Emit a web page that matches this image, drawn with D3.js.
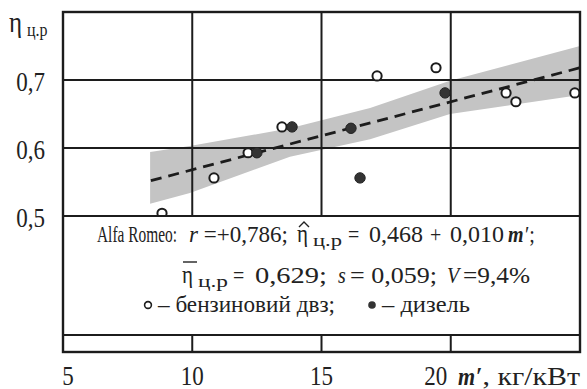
<!DOCTYPE html>
<html>
<head>
<meta charset="utf-8">
<script src="https://cdn.jsdelivr.net/npm/d3@7"></script>
<style>
  html, body { margin: 0; background: #fff; }
  svg { display: block; }
  text { font-family: "Liberation Serif", "DejaVu Serif", serif; }
</style>
</head>
<body>
<div id="chart"></div>
<script>
// ── Data ──────────────────────────────────────────────────────────────────
const xTicks      = [5, 10, 15, 20];
const xTickLabels = ["5", "10", "15", "20"];
const yTicks      = [0.5, 0.6, 0.7];
const yTickLabels = ["0,5", "0,6", "0,7"];

// petrol engines (open circles)
const petrolX = [8.83, 10.84, 12.16, 13.47, 17.15, 19.43, 22.14, 22.52, 24.8];
const petrolY = [0.504, 0.556, 0.593, 0.631, 0.706, 0.718, 0.681, 0.668, 0.681];
// diesel engines (filled circles)
const dieselX = [12.5, 13.86, 16.14, 16.49, 19.78];
const dieselY = [0.593, 0.631, 0.629, 0.556, 0.681];

// confidence band of the regression
const bandX  = [8.37, 9.91, 13.78, 16.88, 19.97, 25];
const bandLo = [0.518, 0.534, 0.587, 0.613, 0.650, 0.678];
const bandHi = [0.594, 0.603, 0.629, 0.659, 0.699, 0.750];

// regression line ends
const fitX = [8.4, 25];
const fitY = [0.552, 0.718];

(function () {
  "use strict";

  const W = 587, H = 389;
  const INK = "#1c1c1c";

  const svg = d3.select("#chart").append("svg")
    .attr("width", W).attr("height", H)
    .attr("viewBox", `0 0 ${W} ${H}`);

  const x = d3.scaleLinear().domain([5, 25]).range([63, 580]);
  const y = d3.scaleLinear().domain([0.3, 0.8]).range([352, 12]);

  // ── Band ────────────────────────────────────────────────────────────────
  const band = bandX.map((v, i) => ({ x: v, lo: bandLo[i], hi: bandHi[i] }));
  svg.append("path")
    .datum(band)
    .attr("d", d3.area().x(d => x(d.x)).y0(d => y(d.lo)).y1(d => y(d.hi)))
    .attr("fill", "#c4c4c4");

  // ── Grid ────────────────────────────────────────────────────────────────
  xTicks.slice(1).forEach(function (v) {
    svg.append("line")
      .attr("x1", x(v)).attr("x2", x(v))
      .attr("y1", y(0.8)).attr("y2", y(0.3))
      .attr("stroke", INK).attr("stroke-width", 2);
  });
  yTicks.forEach(function (v) {
    svg.append("line")
      .attr("x1", x(5)).attr("x2", x(25))
      .attr("y1", y(v)).attr("y2", y(v))
      .attr("stroke", INK).attr("stroke-width", 2);
  });

  // ── Regression line ─────────────────────────────────────────────────────
  svg.append("path")
    .datum(fitX.map((v, i) => [v, fitY[i]]))
    .attr("d", d3.line().x(d => x(d[0])).y(d => y(d[1])))
    .attr("fill", "none")
    .attr("stroke", INK)
    .attr("stroke-width", 2.8)
    .attr("stroke-dasharray", "11,7");

  // ── Points ──────────────────────────────────────────────────────────────
  svg.selectAll("circle.petrol")
    .data(petrolX.map((v, i) => [v, petrolY[i]]))
    .join("circle")
    .attr("class", "petrol")
    .attr("cx", d => x(d[0])).attr("cy", d => y(d[1]))
    .attr("r", 4.6)
    .attr("fill", "#fff").attr("stroke", INK).attr("stroke-width", 2);

  svg.selectAll("circle.diesel")
    .data(dieselX.map((v, i) => [v, dieselY[i]]))
    .join("circle")
    .attr("class", "diesel")
    .attr("cx", d => x(d[0])).attr("cy", d => y(d[1]))
    .attr("r", 5.2)
    .attr("fill", "#333").attr("stroke", "#222").attr("stroke-width", 1);

  // ── Legend box (covers the lower part of the field) ─────────────────────
  const boxBottom = 335;
  svg.append("rect")
    .attr("x", x(5)).attr("y", y(0.5))
    .attr("width", x(25) - x(5)).attr("height", boxBottom - y(0.5))
    .attr("fill", "#fff").attr("stroke", INK).attr("stroke-width", 2);

  // outer frame
  svg.append("rect")
    .attr("x", x(5)).attr("y", y(0.8))
    .attr("width", x(25) - x(5)).attr("height", y(0.3) - y(0.8))
    .attr("fill", "none").attr("stroke", INK).attr("stroke-width", 2.4);

  // ── Text helper: one <text> per segment (the scan's type is a bit tall) ─
  function seg(xPos, yBase, s, size, opts) {
    opts = opts || {};
    const sy = opts.sy || 1.15;
    const t = svg.append("text")
      .attr("transform", `translate(${xPos},${yBase}) scale(1,${sy})`)
      .attr("x", 0).attr("y", 0)
      .attr("font-size", size)
      .attr("fill", "#222");
    if (Array.isArray(s)) {
      s.forEach(function (p) {
        const sp = t.append("tspan").text(p.t);
        if (p.italic) sp.attr("font-style", "italic");
      });
    } else {
      t.text(s);
    }
    if (opts.anchor) t.attr("text-anchor", opts.anchor);
    if (opts.italic) t.attr("font-style", "italic");
    if (opts.bold) t.attr("font-weight", "bold");
    if (opts.len) t.attr("textLength", opts.len).attr("lengthAdjust", "spacingAndGlyphs");
    return t;
  }

  // ── Y tick labels ───────────────────────────────────────────────────────
  yTicks.forEach(function (v, i) {
    seg(45, y(v) + 11, yTickLabels[i], 23, { anchor: "end" });
  });
  // y-axis title
  seg(9, 32, "η", 25);
  seg(27, 36, "ц.р", 16);

  // ── X tick labels ───────────────────────────────────────────────────────
  xTicks.forEach(function (v, i) {
    const dx = v === 20 ? -15 : (v === 5 ? 5 : 0);
    seg(x(v) + dx, 385, xTickLabels[i], 23, { anchor: "middle" });
  });
  seg(458, 385, "m", 22, { italic: true, bold: true });
  seg(476, 385, "′, кг/кВт", 22, { len: 104 });

  // ── Legend text ─────────────────────────────────────────────────────────
  const y1 = 242, y2 = 283, y3 = 312;

  seg(97, y1, "Alfa Romeo:", 15.4, { sy: 1.45 });
  seg(189, y1, [{ t: "r", italic: true }, { t: " =+0,786;" }], 20, { len: 99 });
  seg(297, y1, "η", 21);
  // hat over eta drawn as a small path
  svg.append("path")
    .attr("d", `M299,${y1 - 15} L304,${y1 - 20} L309,${y1 - 15}`)
    .attr("fill", "none").attr("stroke", "#222").attr("stroke-width", 1.4);
  seg(313, y1 + 4, "ц.р", 15, { len: 29 });
  seg(348, y1, "=", 20);
  seg(369, y1, "0,468", 20, { len: 54 });
  seg(430, y1, "+", 20);
  seg(450, y1, "0,010", 20, { len: 54 });
  seg(508, y1, "m", 20, { italic: true, bold: true });
  seg(525, y1, "′;", 20);

  seg(182, y2, "η", 21);
  svg.append("line")
    .attr("x1", 183).attr("x2", 197)
    .attr("y1", y2 - 21).attr("y2", y2 - 21)
    .attr("stroke", "#222").attr("stroke-width", 1.4);
  seg(198, y2 + 4, "ц.р", 15, { len: 30 });
  seg(233, y2, "=", 20);
  seg(255, y2, "0,629;", 20, { len: 72 });
  seg(338, y2, "s", 20, { italic: true });
  seg(350, y2, "= 0,059;", 20, { len: 87 });
  seg(447, y2, "V", 20, { italic: true });
  seg(463, y2, "=9,4%", 20, { len: 67 });

  svg.append("circle").attr("cx", 148).attr("cy", y3 - 7).attr("r", 3.4)
    .attr("fill", "#fff").attr("stroke", INK).attr("stroke-width", 1.6);
  seg(158, y3, "– бензиновий двз;", 20, { len: 177 });
  svg.append("circle").attr("cx", 372).attr("cy", y3 - 7).attr("r", 3.8)
    .attr("fill", "#333");
  seg(382, y3, "– дизель", 20, { len: 88 });
})();
</script>
</body>
</html>
